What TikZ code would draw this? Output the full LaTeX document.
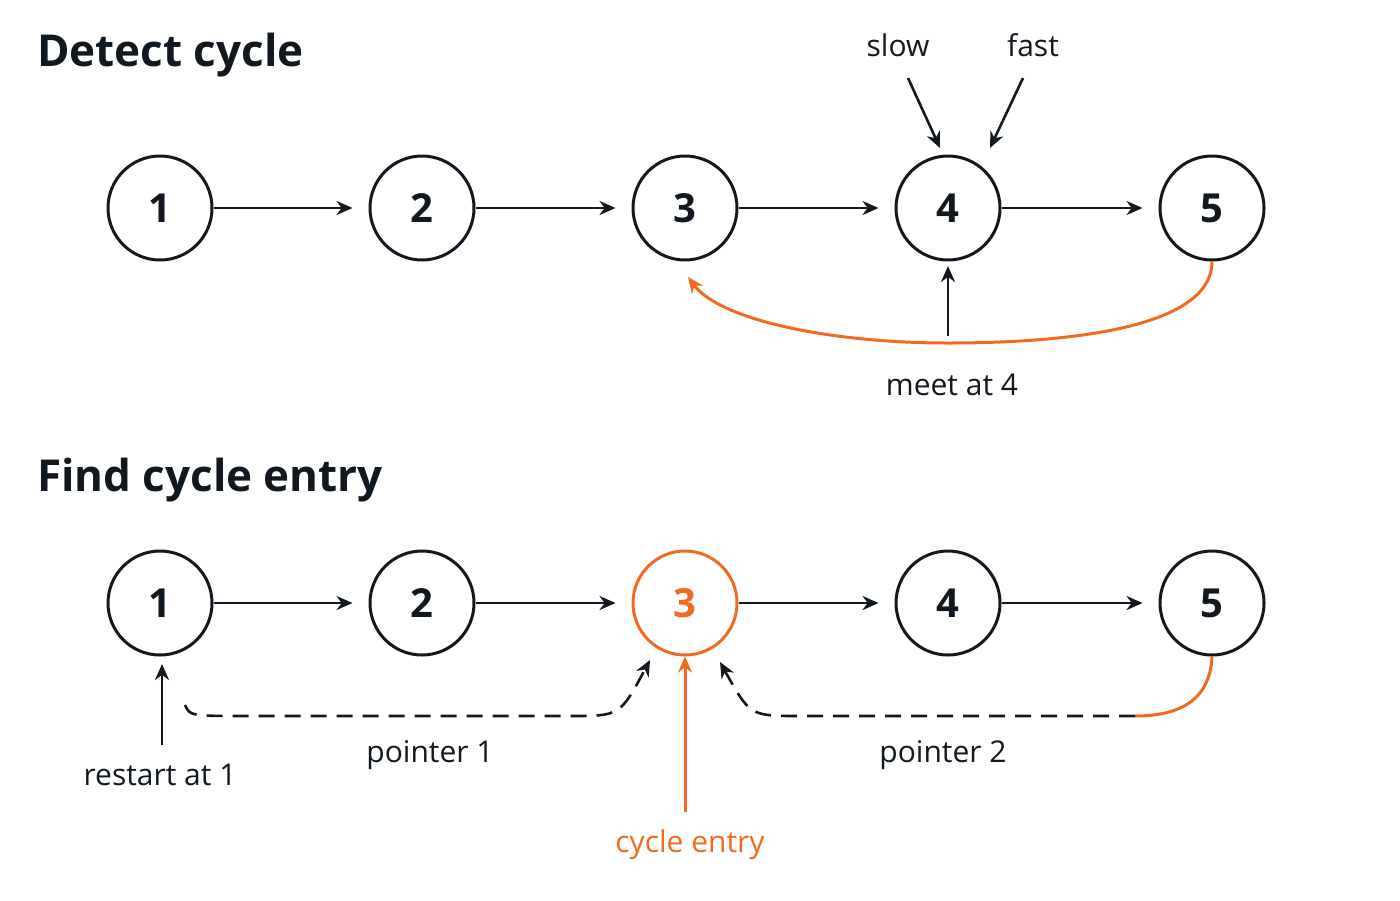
\documentclass[tikz,border=0pt]{standalone}
\usepackage{fontspec}
\setmainfont{Open Sans}
\usetikzlibrary{arrows.meta}
\definecolor{org}{HTML}{F26A21}
\definecolor{ink}{HTML}{111820}
\begin{document}
\begin{tikzpicture}[x=0.5pt,y=-0.5pt,
  nd/.style={circle,draw=ink,line width=1.5pt,minimum size=52pt,inner sep=0pt,font=\fontsize{20}{24}\selectfont\bfseries,text=ink},
  ar/.style={-{Stealth[length=8pt,width=7pt]},line width=1.3pt,draw=ink},
  lb/.style={font=\fontsize{15}{18}\selectfont,text=ink},
  ttl/.style={font=\fontsize{22}{26}\selectfont\bfseries,text=ink,anchor=west}]
\useasboundingbox (0,0) rectangle (1400,900);
\node[ttl] (t1) at (30,55) {Detect cycle};
\node[ttl] (t2) at (30,480) {Find cycle entry};
\foreach \i/\x in {1/160,2/422,3/685,4/948,5/1212}{
  \node[nd] (a\i) at (\x,208) {\i};
}
\foreach \i/\x in {1/160,2/422,4/948,5/1212}{
  \node[nd] (b\i) at (\x,603) {\i};
}
\node[nd,draw=org,text=org] (b3) at (685,603) {3};
\foreach \p/\q in {1/2,2/3,3/4,4/5}{
  \draw[ar,shorten >=8pt] (a\p) -- (a\q);
  \draw[ar,shorten >=8pt] (b\p) -- (b\q);
}
% top labels
\node[lb] (slow) at (898,45) {slow};
\node[lb] (fast) at (1033,45) {fast};
\coordinate (s1) at (908,78); \coordinate (s2) at (940,148);
\coordinate (f1) at (1023,78); \coordinate (f2) at (990,148);
\draw[ar] (s1) -- (s2);
\draw[ar] (f1) -- (f2);
\draw[-{Stealth[length=8pt,width=7pt]},line width=1.5pt,org] (a5.south) .. controls (1212,330) and (1060,343) .. (948,343) .. controls (830,343) and (720,320) .. (688,277);
\node[lb] (meet) at (952,385) {meet at 4};
\coordinate (m1) at (948,336);
\draw[ar] (m1) -- (948,266);
% bottom
\node[lb] (rs) at (160,775) {restart at 1};
\coordinate (r1) at (162,745);
\draw[ar] (r1) -- (162,664);
\node[lb] (p1) at (430,755) {pointer 1};
\node[lb] (p2) at (943,755) {pointer 2};
\coordinate (d1) at (185,705);
\coordinate (d2) at (650,660);
\draw[ar,dashed,dash pattern=on 8pt off 5pt] (d1) .. controls (190,716) .. (250,716) -- (570,716) .. controls (620,716) .. (650,660);
\coordinate (e1) at (1135,716);
\draw[line width=1.5pt,org] (b5.south) .. controls (1210,700) and (1180,716) .. (e1);
\draw[ar,dashed,dash pattern=on 8pt off 5pt] (e1) -- (800,716) .. controls (750,716) .. (720,662);
\node[lb,text=org] (ce) at (690,845) {cycle entry};
\coordinate (c1) at (685,812);
\draw[-{Stealth[length=8pt,width=7pt]},line width=1.5pt,org] (c1) -- (b3.south);
\end{tikzpicture}
\end{document}
